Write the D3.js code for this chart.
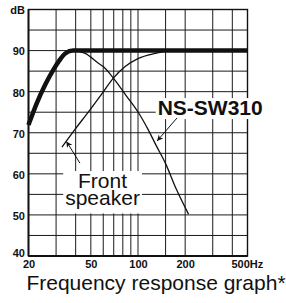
<!DOCTYPE html>
<html>
<head>
<meta charset="utf-8">
<script src="https://cdn.jsdelivr.net/npm/d3@7"></script>
<style>
  html, body { margin: 0; padding: 0; background: #fff; }
  svg { display: block; }
  text { font-family: "Liberation Sans", Arial, Helvetica, sans-serif; fill: #111; }
</style>
</head>
<body>
<svg id="chart" width="286" height="303"></svg>
<script>
// ---- data ----
const xTicks = [20, 50, 100, 200, 500];
const xTickLabels = ["20", "50", "100", "200", "500Hz"];
const xGrid = [20, 30, 40, 50, 60, 70, 80, 90, 100, 150, 200, 300, 400, 500];
const yTicks = [40, 50, 60, 70, 80, 90, 100];
const yTickLabels = ["40", "50", "60", "70", "80", "90", "dB"];
const yGrid = [40, 45, 50, 55, 60, 65, 70, 75, 80, 85, 90, 95, 100];

// combined response (thick)
const combinedFreq = [20, 22.6, 25.5, 28.8, 31.5, 34.3, 38.6, 500];
const combinedDb   = [71.9, 77.2, 81.6, 85.3, 87.6, 89.3, 90, 90];
// NS-SW310 (low-pass, thin)
const subFreq = [36, 38.6, 42, 46, 55.9, 60, 69.6, 84.2, 101, 116.3, 131, 149.5, 176.4, 210];
const subDb   = [89.7, 90, 89.8, 89.3, 86.9, 86.1, 83.3, 79.0, 74.8, 70.7, 66.8, 62.6, 56.1, 50.2];
// Front speaker (high-pass, thin)
const frontFreq = [32.7, 39.4, 48.3, 58.6, 69.6, 82.8, 100.6, 128.6, 150, 185];
const frontDb   = [66.5, 70.7, 75.1, 79.4, 83.3, 86.1, 88.1, 89.3, 89.8, 90];

// annotations (data units)
const nsLabel = { text: "NS-SW310", f: 289, db: 74.3 };
const nsArrow = { f1: 177.4, db1: 73.6, f2: 132.4, db2: 68.0 };
const frontLabel = { lines: ["Front", "speaker"], f: 59.4, db: [56.55, 52.3] };
const frontArrow = { f1: 42.6, db1: 62.6, f2: 34.9, db2: 67.9 };
const title = "Frequency response graph*";

// ---- scales ----
const svg = d3.select("#chart");
const x = d3.scaleLog().domain([20, 500]).range([28.5, 247.5]);
const y = d3.scaleLinear().domain([40, 100]).range([256, 9.5]);

// grid
const g = svg.append("g");
g.selectAll("line.h").data(yGrid).join("line")
  .attr("x1", x(20)).attr("x2", x(500))
  .attr("y1", d => y(d)).attr("y2", d => y(d))
  .attr("stroke", "#1a1a1a").attr("stroke-width", 1);
g.selectAll("line.v").data(xGrid).join("line")
  .attr("x1", d => x(d)).attr("x2", d => x(d))
  .attr("y1", y(100)).attr("y2", y(40))
  .attr("stroke", "#1a1a1a").attr("stroke-width", 1);
// frame
svg.append("rect")
  .attr("x", x(20)).attr("y", y(100))
  .attr("width", x(500) - x(20)).attr("height", y(40) - y(100))
  .attr("fill", "none").attr("stroke", "#111").attr("stroke-width", 1.4);
svg.append("line").attr("x1", x(20)).attr("x2", x(20)).attr("y1", y(100)).attr("y2", y(40))
  .attr("stroke", "#111").attr("stroke-width", 1.8);
svg.append("line").attr("x1", x(20)).attr("x2", x(500)).attr("y1", y(40)).attr("y2", y(40))
  .attr("stroke", "#111").attr("stroke-width", 1.8);

// curves
const line = d3.line().x(d => x(d[0])).y(d => y(d[1])).curve(d3.curveMonotoneX);
svg.append("path").datum(d3.zip(subFreq, subDb)).attr("d", line)
  .attr("fill", "none").attr("stroke", "#111").attr("stroke-width", 1.3);
svg.append("path").datum(d3.zip(frontFreq, frontDb)).attr("d", line)
  .attr("fill", "none").attr("stroke", "#111").attr("stroke-width", 1.3);
svg.append("path").datum(d3.zip(combinedFreq, combinedDb)).attr("d", line)
  .attr("fill", "none").attr("stroke", "#111").attr("stroke-width", 4.5)
  .attr("stroke-linejoin", "round").attr("stroke-linecap", "butt");

// axes
const yAxis = svg.append("g").attr("transform", `translate(${x(20)},0)`)
  .call(d3.axisLeft(y).tickValues(yTicks).tickSize(0).tickPadding(3.5)
    .tickFormat((d, i) => yTickLabels[i]));
yAxis.select(".domain").remove();
yAxis.selectAll("text").attr("font-size", 11).attr("font-weight", "bold")
  .attr("font-family", "Liberation Sans, Arial, sans-serif").attr("fill", "#111")
  .attr("dy", d => d === 40 ? "0.05em" : "0.4em");

const xAxis = svg.append("g").attr("transform", `translate(0,${y(40)})`)
  .call(d3.axisBottom(x).tickValues(xTicks).tickSize(0).tickPadding(4)
    .tickFormat((d, i) => xTickLabels[i]));
xAxis.select(".domain").remove();
xAxis.selectAll("text").attr("font-size", 11).attr("font-weight", "bold")
  .attr("font-family", "Liberation Sans, Arial, sans-serif").attr("fill", "#111");
xAxis.selectAll("text").filter(d => d === 500)
  .attr("text-anchor", "start").attr("x", -16.5);

// arrow marker
const defs = svg.append("defs");
defs.append("marker").attr("id", "ah").attr("viewBox", "0 0 10 10")
  .attr("refX", 10).attr("refY", 5).attr("markerWidth", 7).attr("markerHeight", 6)
  .attr("markerUnits", "userSpaceOnUse").attr("orient", "auto")
  .append("path").attr("d", "M0,0 L10,5 L0,10 L3,5 Z").attr("fill", "#111");

// NS-SW310 label
const nsG = svg.append("g");
const nsBox = nsG.append("rect").attr("fill", "#fff");
const nsText = nsG.append("text")
  .attr("x", x(nsLabel.f)).attr("y", y(nsLabel.db))
  .attr("text-anchor", "middle").attr("font-size", 21).attr("font-weight", "bold")
  .text(nsLabel.text);
{
  const b = nsText.node().getBBox();
  nsBox.attr("x", b.x - 2).attr("y", b.y + 2).attr("width", b.width + 4).attr("height", b.height - 2);
}
svg.append("line")
  .attr("x1", x(nsArrow.f1)).attr("y1", y(nsArrow.db1))
  .attr("x2", x(nsArrow.f2)).attr("y2", y(nsArrow.db2))
  .attr("stroke", "#111").attr("stroke-width", 1).attr("marker-end", "url(#ah)");

// Front speaker label
const frG = svg.append("g");
const frBox = frG.append("rect").attr("fill", "#fff");
const frText = frG.append("text").attr("text-anchor", "middle").attr("font-size", 21);
frontLabel.lines.forEach((t, i) => {
  frText.append("tspan").attr("x", x(frontLabel.f)).attr("y", y(frontLabel.db[i])).text(t);
});
{
  const b = frText.node().getBBox();
  frBox.attr("x", b.x - 2).attr("y", b.y + 2).attr("width", b.width + 4).attr("height", b.height + 2);
}
svg.append("line")
  .attr("x1", x(frontArrow.f1)).attr("y1", y(frontArrow.db1))
  .attr("x2", x(frontArrow.f2)).attr("y2", y(frontArrow.db2))
  .attr("stroke", "#111").attr("stroke-width", 1).attr("marker-end", "url(#ah)");

// title
svg.append("text").attr("x", 156).attr("y", 290)
  .attr("text-anchor", "middle").attr("font-size", 21).attr("fill", "#111")
  .text(title);
</script>
</body>
</html>
